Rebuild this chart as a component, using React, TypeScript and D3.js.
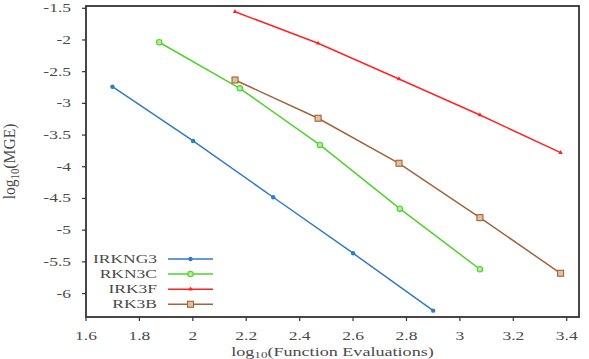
import { useEffect, useRef } from "react";
import * as d3 from "d3";

// log10 of function evaluations and log10 of the max global error per method
const irkng3X = [1.699, 2.001, 2.301, 2.6, 2.9];
const irkng3Y = [-2.737, -3.593, -4.481, -5.364, -6.27];

const rkn3cX = [1.874, 2.176, 2.476, 2.775, 3.075];
const rkn3cY = [-2.036, -2.762, -3.656, -4.661, -5.617];

const irk3fX = [2.158, 2.469, 2.772, 3.075, 3.377];
const irk3fY = [-1.554, -2.052, -2.615, -3.183, -3.778];

const rk3bX = [2.158, 2.469, 2.772, 3.075, 3.377];
const rk3bY = [-2.631, -3.235, -3.945, -4.803, -5.68];

const xTicks = [1.6, 1.8, 2, 2.2, 2.4, 2.6, 2.8, 3, 3.2, 3.4];
const yTicks = [-1.5, -2, -2.5, -3, -3.5, -4, -4.5, -5, -5.5, -6];

const methods = ["IRKNG3", "RKN3C", "IRK3F", "RK3B"];

export default function App() {
  const svgRef = useRef<SVGSVGElement>(null);

  useEffect(() => {
    if (!svgRef.current) return;

    const W = 589;
    const H = 359;
    const left = 86, right = 579, top = 6, bottom = 317;
    const font = "'Liberation Serif', 'Times New Roman', serif";
    const ink = "#4a4a4a";
    const stretch = 1.4;

    const svg = d3.select(svgRef.current).attr("width", W).attr("height", H);
    svg.selectAll("*").remove();

    const x = d3.scaleLinear().domain([1.6, 3.446]).range([left, right]);
    const y = d3.scaleLinear().domain([-6.37, -1.464]).range([bottom, top]);

    const series = [
      { name: methods[0], xs: irkng3X, ys: irkng3Y, color: "#2f7bc4", marker: "dot" },
      { name: methods[1], xs: rkn3cX, ys: rkn3cY, color: "#4fd12e", marker: "circle" },
      { name: methods[2], xs: irk3fX, ys: irk3fY, color: "#ff2424", marker: "tri" },
      { name: methods[3], xs: rk3bX, ys: rk3bY, color: "#a0653a", marker: "square" },
    ];

    const drawMarker = (g: any, cx: number, cy: number, s: any) => {
      if (s.marker === "dot") {
        g.append("circle").attr("cx", cx).attr("cy", cy).attr("r", 2.2).attr("fill", s.color);
      } else if (s.marker === "circle") {
        g.append("circle").attr("cx", cx).attr("cy", cy).attr("r", 2.7)
          .attr("fill", "#b4ee9f").attr("stroke", s.color).attr("stroke-width", 1.1);
      } else if (s.marker === "tri") {
        g.append("path")
          .attr("d", d3.symbol().type(d3.symbolTriangle).size(9)())
          .attr("transform", `translate(${cx},${cy})`)
          .attr("fill", s.color);
      } else {
        g.append("rect").attr("x", cx - 3).attr("y", cy - 3).attr("width", 6).attr("height", 6)
          .attr("fill", "#e2c09f").attr("stroke", s.color).attr("stroke-width", 1.1);
      }
    };

    // series lines and markers
    const line = d3.line<[number, number]>().x((d) => x(d[0])).y((d) => y(d[1]));
    series.forEach((s) => {
      const pts = s.xs.map((v, i) => [v, s.ys[i]] as [number, number]);
      svg.append("path").datum(pts)
        .attr("fill", "none").attr("stroke", s.color).attr("stroke-width", 1.5)
        .attr("d", line);
      const g = svg.append("g");
      pts.forEach((p) => drawMarker(g, x(p[0]), y(p[1]), s));
    });

    // frame
    svg.append("rect")
      .attr("x", left).attr("y", top).attr("width", right - left).attr("height", bottom - top)
      .attr("fill", "none").attr("stroke", "#333").attr("stroke-width", 1.8);

    // y ticks + labels
    yTicks.forEach((v) => {
      svg.append("line").attr("x1", left - 4).attr("x2", left).attr("y1", y(v)).attr("y2", y(v))
        .attr("stroke", "#333").attr("stroke-width", 1.2);
      svg.append("text")
        .attr("transform", `translate(${left - 15},${y(v) + 4}) scale(${stretch},1)`)
        .attr("text-anchor", "end").attr("font-family", font).attr("font-size", 12.5)
        .attr("fill", ink).text(String(v));
    });

    // x ticks + labels
    xTicks.forEach((v) => {
      svg.append("line").attr("x1", x(v)).attr("x2", x(v)).attr("y1", bottom).attr("y2", bottom + 4)
        .attr("stroke", "#333").attr("stroke-width", 1.2);
      svg.append("text")
        .attr("transform", `translate(${x(v)},${340}) scale(${stretch},1)`)
        .attr("text-anchor", "middle").attr("font-family", font).attr("font-size", 12.5)
        .attr("fill", ink).text(String(v));
    });

    // axis titles
    const yTitle = svg.append("text")
      .attr("transform", `translate(15,${(top + bottom) / 2}) scale(1.3,1.2) rotate(-90)`)
      .attr("text-anchor", "middle").attr("font-family", font).attr("font-size", 13)
      .attr("fill", ink);
    yTitle.append("tspan").text("log");
    yTitle.append("tspan").attr("font-size", 9).attr("dy", 3).text("10");
    yTitle.append("tspan").attr("dy", -3).text("(MGE)");

    const xTitle = svg.append("text")
      .attr("transform", `translate(${(left + right) / 2},356) scale(1.45,1)`)
      .attr("text-anchor", "middle").attr("font-family", font).attr("font-size", 12.5)
      .attr("fill", ink);
    xTitle.append("tspan").text("log");
    xTitle.append("tspan").attr("font-size", 9).attr("dy", 2).text("10");
    xTitle.append("tspan").attr("dy", -2).text("(Function Evaluations)");

    // legend
    series.forEach((s, i) => {
      const ly = 259 + i * 15.1;
      svg.append("text")
        .attr("transform", `translate(157,${ly + 4}) scale(${stretch},1)`)
        .attr("text-anchor", "end").attr("font-family", font).attr("font-size", 12.5)
        .attr("fill", ink).text(s.name);
      svg.append("line").attr("x1", 168).attr("x2", 213).attr("y1", ly).attr("y2", ly)
        .attr("stroke", s.color).attr("stroke-width", 1.5);
      drawMarker(svg.append("g"), 190.5, ly, s);
    });
  }, []);

  return (
    <svg
      ref={svgRef}
      style={{ position: "absolute", left: 0, top: 0, background: "#fff" }}
    />
  );
}
